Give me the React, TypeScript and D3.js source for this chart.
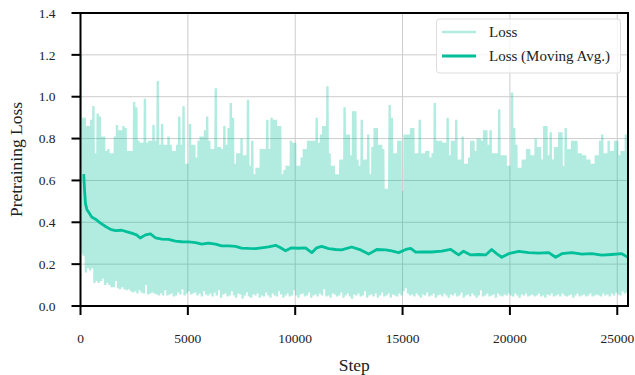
import React from 'react';
import * as d3 from 'd3';

// upper envelope of the raw loss, one value per 100 steps
const lossHigh = [
	1.2, 0.9, 0.9, 0.86, 0.86, 0.89, 0.955, 0.73, 0.92, 0.905,
	0.81, 0.81, 0.74, 0.75, 0.73, 0.73, 0.81, 0.865, 0.84, 0.84,
	0.86, 0.85, 0.74, 0.74, 0.74, 0.975, 0.95, 0.79, 0.78, 0.78,
	0.99, 0.78, 0.79, 0.79, 0.865, 0.79, 1.075, 0.77, 0.87, 0.77,
	0.77, 0.81, 0.77, 0.74, 0.74, 0.77, 0.905, 0.77, 0.955, 0.68,
	0.68, 0.87, 0.77, 0.77, 0.71, 0.79, 0.81, 0.81, 0.84, 0.905,
	0.79, 0.75, 0.75, 1.04, 0.76, 0.76, 0.75, 0.86, 0.77, 0.85,
	0.97, 0.9, 0.68, 0.73, 0.73, 0.8, 0.72, 0.72, 0.985, 0.67,
	0.79, 0.63, 0.66, 0.66, 0.75, 0.75, 0.75, 0.89, 0.75, 0.9,
	0.89, 0.89, 0.86, 0.86, 0.63, 0.65, 0.67, 0.67, 0.79, 0.78,
	0.78, 0.67, 0.67, 0.71, 0.75, 0.75, 0.79, 0.79, 0.79, 0.79,
	0.9, 0.78, 0.82, 0.86, 0.86, 1.05, 0.73, 0.67, 0.67, 0.63,
	0.63, 0.7, 0.7, 0.95, 0.82, 0.82, 0.72, 0.93, 0.93, 0.7,
	0.67, 0.89, 0.7, 0.7, 0.82, 0.63, 0.76, 0.85, 0.85, 0.77,
	0.77, 0.75, 0.56, 0.56, 0.96, 0.9, 0.73, 0.73, 0.79, 0.79,
	0.55, 0.82, 0.82, 0.82, 0.85, 0.85, 0.73, 0.73, 0.89, 0.73,
	0.73, 0.74, 0.74, 0.71, 0.73, 0.97, 0.79, 0.79, 0.79, 0.78,
	0.78, 0.9, 0.72, 0.79, 0.79, 0.89, 0.7, 0.7, 0.81, 0.68,
	0.68, 0.71, 0.79, 0.79, 0.74, 0.8, 0.8, 0.79, 0.84, 0.84,
	0.77, 0.84, 0.73, 0.73, 0.73, 0.94, 0.72, 0.72, 0.72, 0.67,
	0.67, 1.02, 0.85, 0.77, 0.66, 0.66, 0.7, 0.7, 0.75, 0.75,
	0.72, 0.72, 0.8, 0.76, 0.76, 0.7, 0.86, 0.86, 0.72, 0.83,
	0.7, 0.76, 0.76, 0.83, 0.83, 0.67, 0.85, 0.75, 0.75, 0.79,
	0.79, 0.79, 0.73, 0.73, 0.72, 0.72, 0.7, 0.7, 0.68, 0.68,
	0.72, 0.72, 0.79, 0.82, 0.73, 0.73, 0.79, 0.74, 0.74, 0.79,
	0.79, 0.72, 0.74, 0.74, 0.82, 0.82,
];

// lower envelope, same steps offset by 50
const lossLow = [
	0.25, 0.24, 0.16, 0.18, 0.17, 0.18, 0.11, 0.12, 0.11, 0.12,
	0.13, 0.1, 0.11, 0.1, 0.09, 0.09, 0.12, 0.085, 0.08, 0.09,
	0.08, 0.075, 0.08, 0.07, 0.065, 0.07, 0.06, 0.075, 0.065, 0.06,
	0.1, 0.055, 0.06, 0.065, 0.06, 0.055, 0.05, 0.06, 0.05, 0.075,
	0.05, 0.055, 0.06, 0.045, 0.05, 0.065, 0.055, 0.08, 0.05, 0.06,
	0.07, 0.055, 0.06, 0.065, 0.05, 0.06, 0.045, 0.07, 0.055, 0.05,
	0.06, 0.045, 0.065, 0.05, 0.075, 0.04, 0.055, 0.06, 0.045, 0.05,
	0.07, 0.05, 0.04, 0.06, 0.055, 0.035, 0.05, 0.065, 0.045, 0.04,
	0.055, 0.05, 0.06, 0.04, 0.05, 0.045, 0.065, 0.05, 0.04, 0.06,
	0.05, 0.045, 0.07, 0.055, 0.04, 0.05, 0.06, 0.045, 0.05, 0.075,
	0.05, 0.04, 0.055, 0.06, 0.045, 0.05, 0.065, 0.04, 0.05, 0.055,
	0.045, 0.06, 0.05, 0.08, 0.045, 0.05, 0.04, 0.06, 0.055, 0.045,
	0.05, 0.065, 0.04, 0.05, 0.06, 0.045, 0.035, 0.055, 0.05, 0.06,
	0.045, 0.05, 0.07, 0.04, 0.05, 0.055, 0.045, 0.06, 0.04, 0.05,
	0.065, 0.045, 0.05, 0.06, 0.04, 0.055, 0.05, 0.045, 0.06, 0.05,
	0.07, 0.085, 0.06, 0.05, 0.055, 0.045, 0.06, 0.05, 0.04, 0.055,
	0.05, 0.065, 0.045, 0.05, 0.06, 0.04, 0.05, 0.055, 0.045, 0.06,
	0.05, 0.04, 0.055, 0.05, 0.06, 0.045, 0.05, 0.065, 0.04, 0.05,
	0.055, 0.045, 0.06, 0.05, 0.04, 0.05, 0.075, 0.045, 0.05, 0.06,
	0.045, 0.05, 0.055, 0.04, 0.06, 0.05, 0.045, 0.055, 0.05, 0.06,
	0.05, 0.045, 0.06, 0.05, 0.04, 0.055, 0.05, 0.06, 0.045, 0.05,
	0.055, 0.045, 0.05, 0.06, 0.045, 0.05, 0.04, 0.055, 0.05, 0.06,
	0.045, 0.05, 0.055, 0.045, 0.06, 0.05, 0.045, 0.05, 0.055, 0.04,
	0.05, 0.06, 0.045, 0.05, 0.055, 0.045, 0.05, 0.06, 0.045, 0.05,
	0.055, 0.05, 0.045, 0.06, 0.05, 0.055, 0.045, 0.06, 0.05, 0.065,
	0.055, 0.05, 0.07, 0.06, 0.065, 0.055,
];

const maSteps = [
	150, 190, 230, 300, 370, 520, 700, 930, 1170, 1400, 1630, 1920, 2140, 2380,
	2610, 2780, 3030, 3260, 3500, 3780, 4100, 4420, 4710, 5030, 5360, 5650, 5960,
	6290, 6570, 6900, 7220, 7500, 7830, 8150, 8430, 8760, 9090, 9320, 9550, 9830,
	10160, 10480, 10770, 11000, 11230, 11560, 11880, 12160, 12630, 13050, 13420,
	13800, 14210, 14490, 14820, 15150, 15380, 15610, 15890, 16360, 16820, 17240,
	17610, 17840, 18170, 18550, 18870, 19150, 19380, 19620, 19940, 20410, 20880,
	21340, 21810, 22130, 22420, 22880, 23350, 23810, 24280, 24740, 25210, 25440,
	25500,
];
const maValues = [
	0.63, 0.55, 0.49, 0.46, 0.45, 0.425, 0.415, 0.396, 0.38, 0.366, 0.36, 0.362,
	0.355, 0.348, 0.34, 0.325, 0.34, 0.345, 0.325, 0.32, 0.318, 0.31, 0.307,
	0.306, 0.303, 0.296, 0.3, 0.296, 0.287, 0.287, 0.285, 0.277, 0.275, 0.274,
	0.278, 0.282, 0.29, 0.278, 0.264, 0.278, 0.276, 0.278, 0.255, 0.278, 0.285,
	0.274, 0.27, 0.268, 0.282, 0.268, 0.248, 0.27, 0.268, 0.263, 0.255, 0.27,
	0.275, 0.257, 0.258, 0.258, 0.262, 0.271, 0.244, 0.262, 0.244, 0.246, 0.244,
	0.27, 0.25, 0.233, 0.25, 0.261, 0.255, 0.253, 0.255, 0.233, 0.25, 0.255,
	0.248, 0.25, 0.243, 0.246, 0.25, 0.236, 0.238,
];

const xTicks = [0, 5000, 10000, 15000, 20000, 25000];
const yTicks = [0, 0.2, 0.4, 0.6, 0.8, 1.0, 1.2, 1.4];
const seriesNames = ['Loss', 'Loss (Moving Avg.)'];

const W = 635;
const H = 375;
const margin = { top: 13, right: 7, bottom: 69, left: 80.5 };
const color = '#00c09a';
const font = '"Liberation Serif", "DejaVu Serif", serif';

const App: React.FC = () => {
	const x = d3
		.scaleLinear()
		.domain([0, 25500])
		.range([margin.left, W - margin.right]);
	const y = d3
		.scaleLinear()
		.domain([0, 1.4])
		.range([H - margin.bottom, margin.top]);

	// interleave the two envelopes into one dense trace
	const raw: [number, number][] = [];
	lossHigh.forEach((v, i) => {
		raw.push([i * 100, v]);
		raw.push([i * 100 + 50, lossLow[i] ?? lossLow[lossLow.length - 1]]);
	});
	const ma: [number, number][] = maSteps.map((s, i) => [s, maValues[i]]);

	const line = d3
		.line<[number, number]>()
		.x((d) => x(d[0]))
		.y((d) => y(d[1]));

	const [x0, x1] = x.range();
	const [yb, yt] = y.range();

	return (
		<svg
			width={W}
			height={H}
			style={{ position: 'absolute', left: 0, top: 0, background: '#fff' }}
			fontFamily={font}>
			<defs>
				<clipPath id='plot'>
					<rect x={x0} y={yt} width={x1 - x0} height={yb - yt} />
				</clipPath>
			</defs>

			{/* grid */}
			<g stroke='#cccccc' strokeWidth={1}>
				{xTicks.map((t) => (
					<line key={'gx' + t} x1={x(t)} x2={x(t)} y1={yt} y2={yb} />
				))}
				{yTicks.map((t) => (
					<line key={'gy' + t} x1={x0} x2={x1} y1={y(t)} y2={y(t)} />
				))}
			</g>

			<g clipPath='url(#plot)'>
				<path
					d={line(raw) ?? ''}
					fill='none'
					stroke={color}
					strokeOpacity={0.3}
					strokeWidth={2.4}
					strokeLinejoin='miter'
					strokeMiterlimit={1}
				/>
				<path
					d={line(ma) ?? ''}
					fill='none'
					stroke={color}
					strokeWidth={2.8}
					strokeLinejoin='round'
				/>
			</g>

			{/* frame */}
			<rect
				x={x0}
				y={yt}
				width={x1 - x0}
				height={yb - yt}
				fill='none'
				stroke='#000'
				strokeWidth={2}
			/>

			{/* x axis */}
			<g>
				{xTicks.map((t) => (
					<g key={'xt' + t}>
						<line x1={x(t)} x2={x(t)} y1={yb} y2={yb + 9} stroke='#000' strokeWidth={2} />
						<text x={x(t)} y={yb + 37} textAnchor='middle' fontSize={13.5} fill='#222'>
							{t}
						</text>
					</g>
				))}
				<text x={(x0 + x1) / 2} y={H - 4} textAnchor='middle' fontSize={17.5} fill='#222'>
					Step
				</text>
			</g>

			{/* y axis */}
			<g>
				{yTicks.map((t) => (
					<g key={'yt' + t}>
						<line x1={x0 - 9} x2={x0} y1={y(t)} y2={y(t)} stroke='#000' strokeWidth={2} />
						<text x={x0 - 25} y={y(t)} dy='0.35em' textAnchor='end' fontSize={13.5} fill='#222'>
							{t.toFixed(1)}
						</text>
					</g>
				))}
				<text
					transform={`translate(22,${(yt + yb) / 2}) rotate(-90)`}
					textAnchor='middle'
					fontSize={17.5}
					fill='#222'>
					Pretraining Loss
				</text>
			</g>

			{/* legend */}
			<g>
				<rect
					x={436.5}
					y={19}
					width={184}
					height={54}
					rx={3}
					fill='#fff'
					fillOpacity={0.8}
					stroke='#dddddd'
				/>
				{seriesNames.map((name, i) => (
					<g key={name}>
						<line
							x1={442}
							x2={476}
							y1={32 + i * 24}
							y2={32 + i * 24}
							stroke={color}
							strokeOpacity={i === 0 ? 0.3 : 1}
							strokeWidth={i === 0 ? 2.4 : 2.8}
						/>
						<text x={489} y={32 + i * 24} dy='0.33em' fontSize={15} fill='#222'>
							{name}
						</text>
					</g>
				))}
			</g>
		</svg>
	);
};

export default App;
